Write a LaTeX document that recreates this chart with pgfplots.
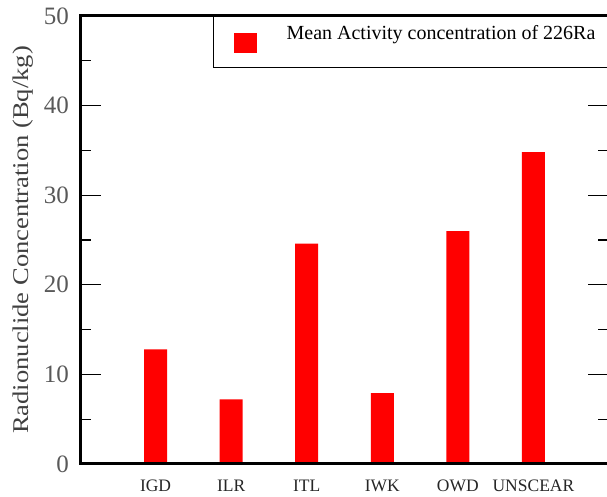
\documentclass[border=0pt]{standalone}
\usepackage{fontspec}
\setmainfont{Liberation Serif}
\newfontfamily\ylabfont[FakeStretch=1.18]{Liberation Serif}
\usepackage{pgfplots}
\pgfplotsset{compat=1.18}
\begin{document}
\begin{tikzpicture}
\begin{axis}[
  at={(80pt,33pt)}, anchor=south west,
  scale only axis, width=529pt, height=448pt,
  xmin=0, xmax=7, ymin=0, ymax=50,
  axis line style={line width=3pt},
  every outer x axis line/.append style={line width=3pt},
  every outer y axis line/.append style={line width=3pt},
  tick style={line width=1.3pt, black},
  tick align=inside,
  major tick length=21pt, minor tick length=11pt,
  ytick={0,10,20,30,40,50}, minor y tick num=1,
  xtick={1,2,3,4,5,6},
  xticklabels={IGD,ILR,ITL,IWK,OWD,UNSCEAR},
  x tick style={draw=none},
  /pgf/number format/assume math mode=true,
  yticklabel style={anchor=east, inner sep=0pt, xshift=-11pt, font=\fontsize{25}{25}\selectfont, text=black!65},
  xticklabel style={anchor=base, inner sep=0pt, yshift=-28pt, font=\fontsize{17.5}{18}\selectfont, text=black!85},
  every axis y label/.style={at={(axis description cs:-0.0983,0.5)}, anchor=base, rotate=90, font=\ylabfont\fontsize{22.5}{24}\selectfont, text=black!75},
  ylabel={Radionuclide Concentration (Bq/kg)},
  legend style={at={(axis description cs:0.2514,1)}, anchor=north west, draw=black, line width=1.3pt, inner sep=0pt, row sep=0pt, column sep=0pt, nodes={inner sep=0pt, anchor=base west, font=\fontsize{20}{24}\selectfont}},
]
\addplot[ybar, fill=red, draw=none, bar width=23pt,
  legend image code/.code={\path[fill=none, draw=none] (0pt,-28.5pt) rectangle (73pt,22.5pt); \fill[red] (20pt,-13.5pt) rectangle (43pt,6.5pt);}]
  coordinates {(1,12.8) (2,7.2) (3,24.6) (4,7.9) (5,26.0) (6,34.8)};
\addlegendentry{\makebox[323pt][l]{Mean Activity concentration of 226Ra}}
\draw[line width=3pt] (rel axis cs:0,0) -- (rel axis cs:0,1) -- (rel axis cs:1,1);
\draw[line width=3pt] (rel axis cs:0,0) -- (rel axis cs:1,0);
\end{axis}
\pgfresetboundingbox
\path[use as bounding box] (0,0) rectangle (607pt,497pt);
\end{tikzpicture}
\end{document}
